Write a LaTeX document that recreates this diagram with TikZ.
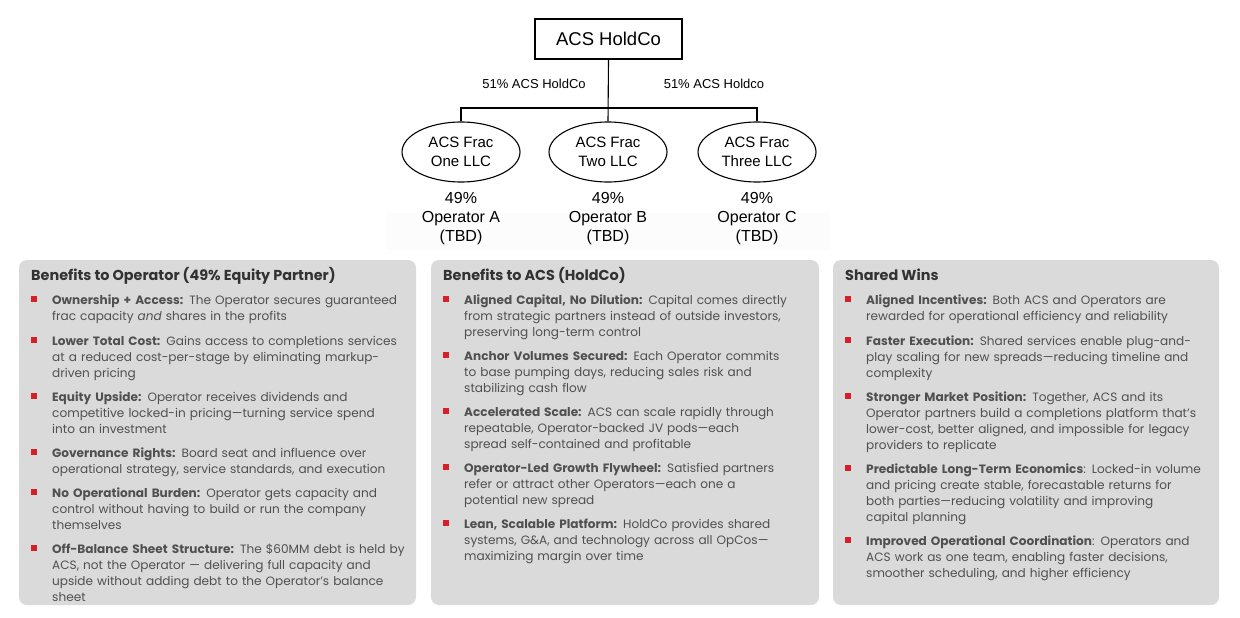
\documentclass[tikz,border=0pt]{standalone}
\usepackage{fontspec}
\setmainfont{Liberation Sans}
\newfontfamily\panelfont{Poppins}
\usetikzlibrary{positioning,shapes.geometric}

\definecolor{acsred}{RGB}{214,32,40}
\definecolor{panelgray}{RGB}{218,218,218}
\definecolor{titlegray}{RGB}{50,50,50}
\definecolor{bodygray}{RGB}{80,80,80}

\newcommand{\sqb}{\llap{\textcolor{acsred}{\rule[2.5pt]{5.5pt}{5.5pt}}\hspace{15.5pt}}}

\tikzset{
  entity/.style={draw, line width=1.1pt, minimum width=147pt, minimum height=40pt,
    font=\fontsize{18.5}{22}\selectfont},
  opco/.style={draw, ellipse, line width=1.1pt, minimum width=118pt, minimum height=60pt,
    inner sep=0pt, align=center, font=\fontsize{15}{19}\selectfont},
  share/.style={font=\fontsize{13}{16}\selectfont},
  partner/.style={below=10pt of #1, inner sep=0pt, align=center,
    font=\fontsize{16}{19}\selectfont},
  panel/.style={fill=panelgray, rounded corners=8pt},
  paneltitle/.style={anchor=base west, inner sep=0pt, text=titlegray,
    font=\panelfont\bfseries\fontsize{14.4}{17}\selectfont},
  benefit/.style={anchor=north west, inner sep=0pt, text width=380pt, align=left,
    text=bodygray, font=\panelfont\fontsize{12.1}{16}\selectfont,
    execute at begin node=\strut}
}

\begin{document}
\begin{tikzpicture}[x=1pt,y=-1pt]
    \useasboundingbox (0,0) rectangle (1240,618);
    % Estructura societaria
    \fill[black!1] (386,213) rectangle (830,250);
    \node[entity] (hold) at (608.5,39) {ACS HoldCo};
    \node[opco] (one) at (461,152) {ACS Frac\\One LLC};
    \node[opco] (two) at (608,152) {ACS Frac\\Two LLC};
    \node[opco] (three) at (757,152) {ACS Frac\\Three LLC};
    \coordinate (bus) at (608,108);
    \draw[line width=1.1pt] (hold.south) -- (two.north);
    \draw[line width=1.1pt] (one.north) |- (bus) -| (three.north);
    \node[share] (lblA) at (534,84) {51\% ACS HoldCo};
    \node[share] (lblB) at (714,84) {51\% ACS Holdco};
    \node[partner=one] (opA) {49\%\\Operator A\\(TBD)};
    \node[partner=two] (opB) {49\%\\Operator B\\(TBD)};
    \node[partner=three] (opC) {49\%\\Operator C\\(TBD)};
    % Paneles
    \fill[panel] (19,260) rectangle (416,605);
    \fill[panel] (431,260) rectangle (819,605);
    \fill[panel] (833,260) rectangle (1219,605);
    \node[paneltitle] (tOp) at (31,280) {Benefits to Operator (49\% Equity Partner)};
    \node[paneltitle] (tAcs) at (443,280) {Benefits to ACS (HoldCo)};
    \node[paneltitle] (tWin) at (845,280) {Shared Wins};
    % Beneficios al operador
    \node[benefit] (op1) at (52,293) {\sqb\textbf{Ownership + Access:} The Operator secures guaranteed\\
        frac capacity \textit{and} shares in the profits};
    \node[benefit] (op2) at (52,334) {\sqb\textbf{Lower Total Cost:} Gains access to completions services\\
        at a reduced cost-per-stage by eliminating markup-\\driven pricing};
    \node[benefit] (op3) at (52,390) {\sqb\textbf{Equity Upside:} Operator receives dividends and\\
        competitive locked-in pricing—turning service spend\\into an investment};
    \node[benefit] (op4) at (52,446) {\sqb\textbf{Governance Rights:} Board seat and influence over\\
        operational strategy, service standards, and execution};
    \node[benefit] (op5) at (52,486) {\sqb\textbf{No Operational Burden:} Operator gets capacity and\\
        control without having to build or run the company\\themselves};
    \node[benefit] (op6) at (52,542) {\sqb\textbf{Off-Balance Sheet Structure:} The \$60MM debt is held by\\
        ACS, not the Operator — delivering full capacity and\\
        upside without adding debt to the Operator’s balance\\sheet};
    % Beneficios a ACS
    \node[benefit] (acs1) at (464,293) {\sqb\textbf{Aligned Capital, No Dilution:} Capital comes directly\\
        from strategic partners instead of outside investors,\\preserving long-term control};
    \node[benefit] (acs2) at (464,349) {\sqb\textbf{Anchor Volumes Secured:} Each Operator commits\\
        to base pumping days, reducing sales risk and\\stabilizing cash flow};
    \node[benefit] (acs3) at (464,405) {\sqb\textbf{Accelerated Scale:} ACS can scale rapidly through\\
        repeatable, Operator-backed JV pods—each\\spread self-contained and profitable};
    \node[benefit] (acs4) at (464,461) {\sqb\textbf{Operator-Led Growth Flywheel:} Satisfied partners\\
        refer or attract other Operators—each one a\\potential new spread};
    \node[benefit] (acs5) at (464,517) {\sqb\textbf{Lean, Scalable Platform:} HoldCo provides shared\\
        systems, G\&A, and technology across all OpCos—\\maximizing margin over time};
    % Ganancias compartidas
    \node[benefit] (win1) at (866,293) {\sqb\textbf{Aligned Incentives:} Both ACS and Operators are\\
        rewarded for operational efficiency and reliability};
    \node[benefit] (win2) at (866,334) {\sqb\textbf{Faster Execution:} Shared services enable plug-and-\\
        play scaling for new spreads—reducing timeline and\\complexity};
    \node[benefit] (win3) at (866,390) {\sqb\textbf{Stronger Market Position:} Together, ACS and its\\
        Operator partners build a completions platform that’s\\
        lower-cost, better aligned, and impossible for legacy\\providers to replicate};
    \node[benefit] (win4) at (866,462) {\sqb\textbf{Predictable Long-Term Economics}: Locked-in volume\\
        and pricing create stable, forecastable returns for\\
        both parties—reducing volatility and improving\\capital planning};
    \node[benefit] (win5) at (866,534) {\sqb\textbf{Improved Operational Coordination}: Operators and\\
        ACS work as one team, enabling faster decisions,\\
        smoother scheduling, and higher efficiency};
\end{tikzpicture}
\end{document}
